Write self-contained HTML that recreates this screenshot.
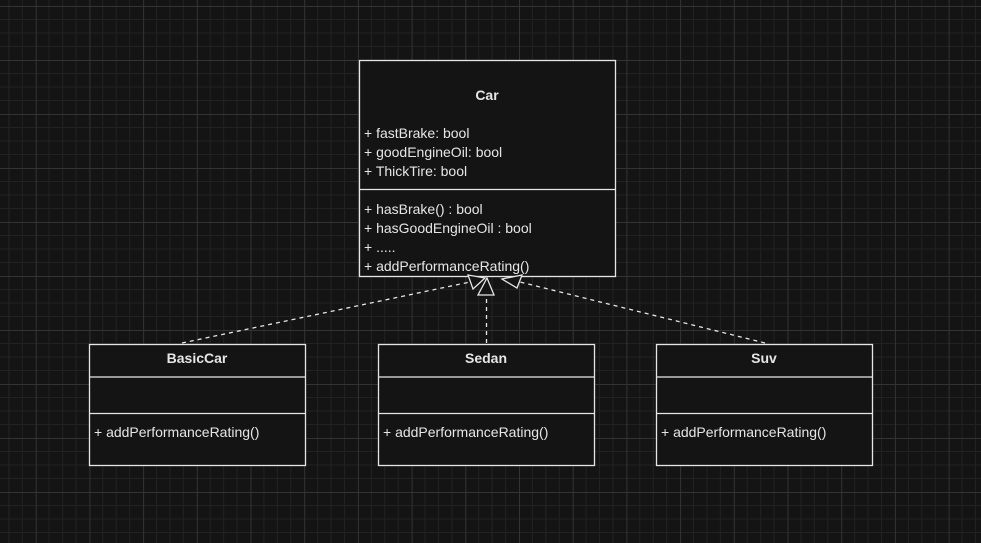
<!DOCTYPE html>
<html><head><meta charset="utf-8"><style>
html,body{margin:0;padding:0;background:#141414;}
svg{display:block;}
text{font-family:"Liberation Sans",Arial,sans-serif;fill:#e6e6e6;font-size:14px;}
.b{font-weight:bold;text-anchor:middle;}
</style></head><body>
<svg width="981" height="543" viewBox="0 0 981 543" xmlns="http://www.w3.org/2000/svg">
<defs>
<pattern id="g" x="35.7" y="6" width="53.7" height="54" patternUnits="userSpaceOnUse">
<path d="M13.4 0V54M26.85 0V54M40.3 0V54M0 13.5H53.7M0 27H53.7M0 40.5H53.7" stroke="#222" stroke-width="1" fill="none"/>
<path d="M0.5 0V54M0 0.5H53.7" stroke="#333" stroke-width="1" fill="none"/>
</pattern>
</defs>
<rect width="981" height="543" fill="#141414"/>
<rect width="981" height="543" fill="url(#g)"/>

<g stroke="#e6e6e6" stroke-width="1.3" fill="none" stroke-dasharray="4,4">
<line x1="182" y1="343" x2="470" y2="282"/>
<line x1="486.5" y1="343" x2="486.5" y2="295"/>
<line x1="765" y1="343" x2="520" y2="282"/>
</g>

<rect x="359.5" y="60.5" width="256" height="216" fill="#141414" stroke="#e6e6e6" stroke-width="1.3"/>
<line x1="359.5" y1="189.5" x2="615.5" y2="189.5" stroke="#e6e6e6" stroke-width="1.3"/>
<text class="b" x="487" y="100">Car</text>
<text x="364" y="138">+ fastBrake: bool</text>
<text x="364" y="157">+ goodEngineOil: bool</text>
<text x="364" y="176">+ ThickTire: bool</text>
<text x="364" y="214">+ hasBrake() : bool</text>
<text x="364" y="233">+ hasGoodEngineOil : bool</text>
<text x="364" y="252">+ .....</text>
<text x="364" y="271">+ addPerformanceRating()</text>

<g stroke="#e6e6e6" stroke-width="1.3" fill="#141414">
<polygon points="468,275 485,278 473,289"/>
<polygon points="487,278 478,295 494,295"/>
<polygon points="502,279 522,275 517,288"/>
</g>

<g stroke="#e6e6e6" stroke-width="1.3" fill="#141414">
<rect x="89.5" y="344.5" width="216" height="121"/>
<rect x="378.5" y="344.5" width="216" height="121"/>
<rect x="656.5" y="344.5" width="216" height="121"/>
<path d="M89.5 377H305.5M89.5 413.5H305.5M378.5 377H594.5M378.5 413.5H594.5M656.5 377H872.5M656.5 413.5H872.5" fill="none"/>
</g>
<text class="b" x="197" y="363">BasicCar</text>
<text class="b" x="486" y="363">Sedan</text>
<text class="b" x="764" y="363">Suv</text>
<text x="94" y="437">+ addPerformanceRating()</text>
<text x="383" y="437">+ addPerformanceRating()</text>
<text x="661" y="437">+ addPerformanceRating()</text>
</svg>
</body></html>
